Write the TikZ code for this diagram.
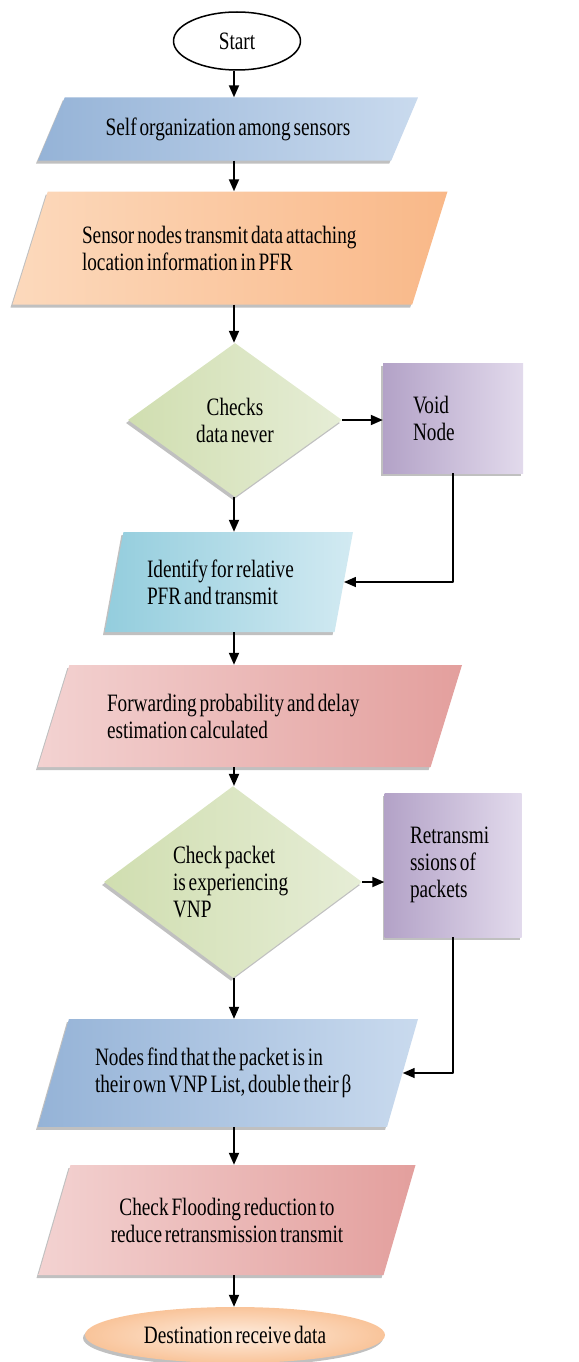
\documentclass[tikz,border=0pt]{standalone}
\usepackage{fontspec}
\setmainfont[FakeStretch=0.77,WordSpace=0.6]{Liberation Serif}
\usetikzlibrary{arrows.meta,shapes.geometric,shadows}

\definecolor{selfblue}{HTML}{95B3D7}
\definecolor{paleblue}{HTML}{C9DAEE}
\definecolor{sensorange}{HTML}{F9B888}
\definecolor{paleorange}{HTML}{FCD9BC}
\definecolor{checkgreen}{HTML}{D0DEB0}
\definecolor{palegreen}{HTML}{E6EDD6}
\definecolor{voidpurple}{HTML}{B3A2C7}
\definecolor{palepurple}{HTML}{E2DAEC}
\definecolor{identcyan}{HTML}{93CDDD}
\definecolor{palecyan}{HTML}{D2EAF2}
\definecolor{fwdred}{HTML}{E39F9D}
\definecolor{palered}{HTML}{F3D2D1}
\definecolor{destpeach}{HTML}{F9C49A}

\begin{document}
\begin{tikzpicture}[x=1pt,y=1pt,>={Triangle[length=12pt,width=10pt]},line join=round,
  txt/.style={font=\fontsize{25}{27}\selectfont},
  flow/.style={->,line width=1.8pt},
  link/.style={->,line width=1.5pt},
  shade3d/.style={drop shadow={shadow xshift=-2pt,shadow yshift=-3pt,opacity=0.45,fill=black!55}},
  iobox/.style={trapezium,trapezium stretches body,inner xsep=3pt,txt,shade3d},
  checkbox/.style={diamond,inner sep=0pt,txt,shade3d,left color=checkgreen,right color=palegreen},
  sidebox/.style={rectangle,inner sep=0pt,txt,shade3d,left color=voidpurple,right color=palepurple}]
\useasboundingbox (0,0) rectangle (578,-1362);
\coordinate (spine) at (234,0);

% main column
\node[ellipse,draw,line width=1.5pt,fill=white,minimum width=127,minimum height=58,txt] (start) at (237,-41) {Start};
\node[iobox,trapezium left angle=67,trapezium right angle=113,minimum width=380,minimum height=63,inner ysep=20pt,
  left color=selfblue,right color=paleblue,align=center] (self) at (228,-129) {Self organization among sensors};
\node[iobox,trapezium left angle=72,trapezium right angle=108,minimum width=435,minimum height=113,inner ysep=32pt,
  left color=paleorange,right color=sensorange,text width=296,align=flush left] (sensor) at (230,-248) {Sensor nodes transmit data attaching\\location information in PFR};
\node[checkbox,minimum width=214,minimum height=154,align=center] (chk1) at (235,-420) {Checks\\data never};
\node[sidebox,minimum width=140,minimum height=110,text width=80,align=flush left] (void) at (453,-418) {Void\\Node};
\node[iobox,trapezium left angle=79,trapezium right angle=101,minimum width=248,minimum height=100,inner ysep=25pt,
  left color=identcyan,right color=palecyan,text width=164,align=flush left] (ident) at (229,-582) {Identify for relative\\PFR and transmit};
\node[iobox,trapezium left angle=72,trapezium right angle=108,minimum width=424,minimum height=102,inner ysep=26pt,
  left color=palered,right color=fwdred,text width=286,align=flush left] (fwd) at (250,-716) {Forwarding probability and delay\\estimation calculated};
\node[checkbox,minimum width=258,minimum height=185,text width=120,align=flush left] (chk2) at (233,-882) {Check packet\\is experiencing\\VNP};
\node[sidebox,minimum width=137,minimum height=144,text width=86,align=flush left] (retx) at (453,-865) {Retransmi\\ssions of\\packets};
\node[iobox,trapezium left angle=74,trapezium right angle=106,minimum width=380,minimum height=107,inner ysep=29pt,
  left color=selfblue,right color=paleblue,text width=266,align=flush left] (vnp) at (228,-1073) {Nodes find that the packet is in\\their own VNP List, double their β};
\node[iobox,trapezium left angle=73,trapezium right angle=107,minimum width=377,minimum height=110,inner ysep=30pt,
  left color=palered,right color=fwdred,align=center] (flood) at (227,-1220) {Check Flooding reduction to\\reduce retransmission transmit};
\node[ellipse,minimum width=300,minimum height=56,txt,shade3d,inner color=paleorange!50!white,outer color=destpeach] (dest) at (235,-1335) {Destination receive data};

% connectors
\draw[flow] (spine |- start.south) -- (spine |- self.north);
\draw[flow] (spine |- self.south) -- (spine |- sensor.north);
\draw[flow] (spine |- sensor.south) -- (spine |- chk1.north);
\draw[flow] (chk1.east) -- (chk1.east -| void.west);
\draw[flow] (spine |- chk1.south) -- (spine |- ident.north);
\draw[link] (void.south) |- (ident.right side);
\draw[flow] (spine |- ident.south) -- (spine |- fwd.north);
\draw[flow] (spine |- fwd.south) -- (spine |- chk2.north);
\draw[flow] (chk2.east) -- (chk2.east -| retx.west);
\draw[flow] (spine |- chk2.south) -- (spine |- vnp.north);
\draw[link] (retx.south) |- (vnp.right side);
\draw[flow] (spine |- vnp.south) -- (spine |- flood.north);
\draw[flow] (spine |- flood.south) -- (spine |- dest.north);
\end{tikzpicture}
\end{document}
